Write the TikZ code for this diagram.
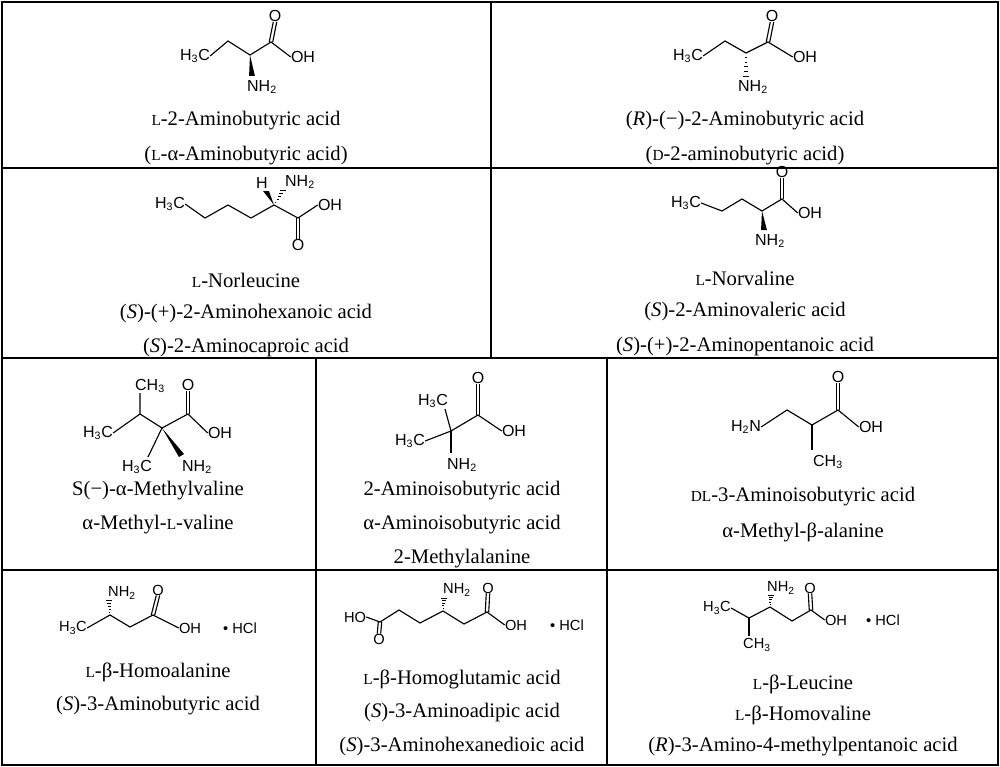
\documentclass[tikz,border=0pt]{standalone}
\usepackage{fontspec}
\usetikzlibrary{calc}
\setmainfont{Liberation Serif}
\newfontfamily\chemf{Liberation Sans}
\newcommand{\Ls}{{\fontsize{11.5}{12}\selectfont L}}
\newcommand{\Ds}{{\fontsize{11.5}{12}\selectfont D}}
\newcommand{\sub}[1]{\textsubscript{#1}}
\newcommand{\dbl}[2]{\draw[bond] ([xshift=-1.3pt]#1) -- ([xshift=-1.3pt]#2); \draw[bond] ([xshift=1.3pt]#1) -- ([xshift=1.3pt]#2);}
\newcommand{\swedge}[2]{\fill (#1) -- ([xshift=-2.2pt]#2) -- ([xshift=2.2pt]#2) -- cycle;}
\newcommand{\hashw}[2]{\foreach \t in {0.2,0.4,0.6,0.8,1.0}{\draw[line width=0.6pt] ($(#1)!\t!(#2)+(-2.6*\t,0)$) -- ($(#1)!\t!(#2)+(2.6*\t,0)$);}}
\begin{document}
\begin{tikzpicture}[x=0.75pt,y=-0.75pt,
  grid/.style={line width=0.9pt},
  nm/.style={font=\fontsize{15.5}{18}\selectfont, inner sep=0pt},
  atm/.style={font=\chemf\fontsize{12}{13}\selectfont, inner sep=0pt},
  atms/.style={font=\chemf\fontsize{11}{12}\selectfont, inner sep=0pt},
  bond/.style={line width=0.85pt}]
\useasboundingbox (0,0) rectangle (1000,767);
% table
\draw[grid] (2,2) rectangle (998,765);
\draw[grid] (2,168) -- (998,168);
\draw[grid] (2,358) -- (998,358);
\draw[grid] (2,570) -- (998,570);
\draw[grid] (491,2) -- (491,358);
\draw[grid] (316,358) -- (316,765);
\draw[grid] (607,358) -- (607,765);
% names
\node[nm] (n1a) at (246,121) {\Ls-2-Aminobutyric acid};
\node[nm] (n1b) at (246,156) {(\Ls-α-Aminobutyric acid)};
\node[nm] (n2a) at (745,121) {(\textit{R})-(−)-2-Aminobutyric acid};
\node[nm] (n2b) at (745,156) {(\Ds-2-aminobutyric acid)};
\node[nm] (n3a) at (246,280) {\Ls-Norleucine};
\node[nm] (n3b) at (246,314) {(\textit{S})-(+)-2-Aminohexanoic acid};
\node[nm] (n3c) at (246,348) {(\textit{S})-2-Aminocaproic acid};
\node[nm] (n4a) at (745,278) {\Ls-Norvaline};
\node[nm] (n4b) at (745,312) {(\textit{S})-2-Aminovaleric acid};
\node[nm] (n4c) at (745,347) {(\textit{S})-(+)-2-Aminopentanoic acid};
\node[nm] (n5a) at (158,491) {S(−)-α-Methylvaline};
\node[nm] (n5b) at (158,525) {α-Methyl-\Ls-valine};
\node[nm] (n6a) at (462,491) {2-Aminoisobutyric acid};
\node[nm] (n6b) at (462,525) {α-Aminoisobutyric acid};
\node[nm] (n6c) at (462,559) {2-Methylalanine};
\node[nm] (n7a) at (803,497) {\Ds\Ls-3-Aminoisobutyric acid};
\node[nm] (n7b) at (803,532) {α-Methyl-β-alanine};
\node[nm] (n8a) at (158,672) {\Ls-β-Homoalanine};
\node[nm] (n8b) at (158,706) {(\textit{S})-3-Aminobutyric acid};
\node[nm] (n9a) at (462,679) {\Ls-β-Homoglutamic acid};
\node[nm] (n9b) at (462,713) {(\textit{S})-3-Aminoadipic acid};
\node[nm] (n9c) at (462,747) {(\textit{S})-3-Aminohexanedioic acid};
\node[nm] (n10a) at (803,684) {\Ls-β-Leucine};
\node[nm] (n10b) at (803,715) {\Ls-β-Homovaline};
\node[nm] (n10c) at (803,747) {(\textit{R})-3-Amino-4-methylpentanoic acid};
% M1
\node[atm] (m1a) at (195,56) {H\sub{3}C};
\node[atm] (m1o) at (275,16) {O};
\node[atm] (m1oh) at (303,57) {OH};
\node[atm] (m1n) at (262,87) {NH\sub{2}};
\coordinate (m1c2) at (228,41); \coordinate (m1c3) at (250,55); \coordinate (m1c4) at (271,42);
\draw[bond] (m1a.east) -- (m1c2) -- (m1c3) -- (m1c4) -- (m1oh.west);
\dbl{m1c4}{m1o.south}
\swedge{m1c3}{252,76}
% M2
\node[atm] (m2a) at (688,56) {H\sub{3}C};
\node[atm] (m2o) at (772,16) {O};
\node[atm] (m2oh) at (805,57) {OH};
\node[atm] (m2n) at (753,87) {NH\sub{2}};
\coordinate (m2c2) at (725,41); \coordinate (m2c3) at (746,53); \coordinate (m2c4) at (768,42);
\draw[bond] (m2a.east) -- (m2c2) -- (m2c3) -- (m2c4) -- (m2oh.west);
\dbl{m2c4}{m2o.south}
\hashw{m2c3}{746,76}
% M3 norleucine
\node[atm] (m3a) at (170,204) {H\sub{3}C};
\node[atm] (m3h) at (262,183) {H};
\node[atm] (m3n) at (300,182) {NH\sub{2}};
\node[atm] (m3oh) at (330,205) {OH};
\node[atm] (m3o) at (298,245) {O};
\coordinate (m3c2) at (205,218); \coordinate (m3c3) at (228,205); \coordinate (m3c4) at (251,218);
\coordinate (m3ca) at (274,205); \coordinate (m3cc) at (298,218);
\draw[bond] (m3a.east) -- (m3c2) -- (m3c3) -- (m3c4) -- (m3ca) -- (m3cc) -- (m3oh.west);
\dbl{m3cc}{m3o.north}
\swedge{m3ca}{266,191}
\hashw{m3ca}{283,190}
% M4 norvaline
\node[atm] (m4a) at (686,203) {H\sub{3}C};
\node[atm] (m4o) at (782,172) {O};
\node[atm] (m4oh) at (810,213) {OH};
\node[atm] (m4n) at (770,241) {NH\sub{2}};
\coordinate (m4c2) at (722,211); \coordinate (m4c3) at (742,199); \coordinate (m4ca) at (762,211); \coordinate (m4cc) at (782,199);
\draw[bond] (m4a.east) -- (m4c2) -- (m4c3) -- (m4ca) -- (m4cc) -- (m4oh.west);
\dbl{m4cc}{m4o.south}
\swedge{m4ca}{764,230}
% M5 methylvaline
\node[atm] (m5m) at (150,386) {CH\sub{3}};
\node[atm] (m5o) at (188,385) {O};
\node[atm] (m5a) at (98,433) {H\sub{3}C};
\node[atm] (m5oh) at (220,433) {OH};
\node[atm] (m5b) at (137,467) {H\sub{3}C};
\node[atm] (m5n) at (197,467) {NH\sub{2}};
\coordinate (m5ch) at (140,414); \coordinate (m5ca) at (162,428); \coordinate (m5cc) at (188,414);
\draw[bond] (m5m.south-|m5ch) -- (m5ch) -- (m5a.east);
\draw[bond] (m5ch) -- (m5ca) -- (m5cc) -- (m5oh.west);
\draw[bond] (m5ca) -- (148,457);
\dbl{m5cc}{m5o.south}
\fill (m5ca) -- (179,457) -- (184,454) -- cycle;
% M6 aminoisobutyric
\node[atm] (m6o) at (478,378) {O};
\node[atm] (m6a) at (433,401) {H\sub{3}C};
\node[atm] (m6b) at (410,441) {H\sub{3}C};
\node[atm] (m6oh) at (514,431) {OH};
\node[atm] (m6n) at (462,465) {NH\sub{2}};
\coordinate (m6ca) at (451,431); \coordinate (m6cc) at (478,415);
\draw[bond] (m6ca) -- (445,409);
\draw[bond] (m6ca) -- (m6b.east);
\draw[bond] (m6ca) -- (451,453);
\draw[bond] (m6ca) -- (m6cc) -- (m6oh.west);
\dbl{m6cc}{m6o.south}
% M7
\node[atm] (m7n) at (746,427) {H\sub{2}N};
\node[atm] (m7o) at (838,377) {O};
\node[atm] (m7oh) at (871,427) {OH};
\node[atm] (m7m) at (828,462) {CH\sub{3}};
\coordinate (m7c1) at (787,410); \coordinate (m7c2) at (812,425); \coordinate (m7cc) at (838,410);
\draw[bond] (m7n.east) -- (m7c1) -- (m7c2) -- (m7cc) -- (m7oh.west);
\draw[bond] (m7c2) -- (812,450);
\dbl{m7cc}{m7o.south}
% M8
\node[atms] (m8n) at (122,593) {NH\sub{2}};
\node[atms] (m8o) at (158,590) {O};
\node[atms] (m8a) at (73,628) {H\sub{3}C};
\node[atms] (m8oh) at (190,628) {OH};
\node[atms] (m8h) at (240,628) {• HCl};
\coordinate (m8cb) at (110,615); \coordinate (m8c2) at (130,627); \coordinate (m8cc) at (153,615);
\draw[bond] (m8a.east) -- (m8cb) -- (m8c2) -- (m8cc) -- (m8oh.west);
\dbl{m8cc}{m8o.south}
\hashw{m8cb}{109,600}
% M9
\node[atms] (m9ho) at (355,617) {HO};
\node[atms] (m9o1) at (379,639) {O};
\node[atms] (m9n) at (457,590) {NH\sub{2}};
\node[atms] (m9o2) at (488,588) {O};
\node[atms] (m9oh) at (516,625) {OH};
\node[atms] (m9h) at (567,625) {• HCl};
\coordinate (m9c1) at (380,622); \coordinate (m9c2) at (399,610); \coordinate (m9c3) at (420,623);
\coordinate (m9c4) at (443,611); \coordinate (m9c5) at (464,624); \coordinate (m9c6) at (487,612);
\draw[bond] (m9ho.east) -- (m9c1) -- (m9c2) -- (m9c3) -- (m9c4) -- (m9c5) -- (m9c6) -- (m9oh.west);
\dbl{m9c1}{m9o1.north}
\dbl{m9c6}{m9o2.south}
\hashw{m9c4}{444,598}
% M10
\node[atms] (m10a) at (717,608) {H\sub{3}C};
\node[atms] (m10m) at (757,645) {CH\sub{3}};
\node[atms] (m10n) at (781,588) {NH\sub{2}};
\node[atms] (m10o) at (810,588) {O};
\node[atms] (m10oh) at (836,620) {OH};
\node[atms] (m10h) at (883,620) {• HCl};
\coordinate (m10cg) at (749,618); \coordinate (m10cb) at (770,607); \coordinate (m10c2) at (792,621); \coordinate (m10cc) at (811,610);
\draw[bond] (m10a.east) -- (m10cg) -- (m10cb) -- (m10c2) -- (m10cc) -- (m10oh.west);
\draw[bond] (m10cg) -- (749,636);
\dbl{m10cc}{m10o.south}
\hashw{m10cb}{771,595}
\end{tikzpicture}
\end{document}
